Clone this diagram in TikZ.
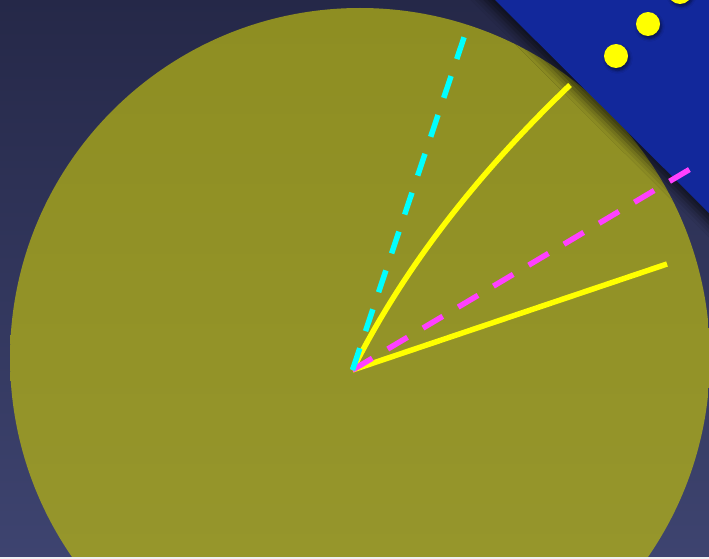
\documentclass[tikz,border=0pt]{standalone}
\usetikzlibrary{shadows.blur}
\definecolor{bgtop}{RGB}{37,40,72}
\definecolor{bgbot}{RGB}{62,68,112}
\definecolor{olivetop}{RGB}{142,142,34}
\definecolor{olivebot}{RGB}{152,152,46}
\definecolor{bluezone}{RGB}{18,40,155}
\definecolor{cyanline}{RGB}{0,255,255}
\definecolor{magline}{RGB}{255,64,255}
\definecolor{yel}{RGB}{255,255,0}
\begin{document}
\begin{tikzpicture}[x=1pt,y=-1pt,
  ray/.style={line width=5.5pt, line cap=butt},
  dashray/.style={ray, dash pattern=on 23pt off 18pt},
  dot/.style={fill=yel, blur shadow={shadow xshift=1.5pt, shadow yshift=-2.5pt, shadow blur radius=3pt, shadow opacity=55}}]
\useasboundingbox (0,0) rectangle (709,559);
\clip (0,0) rectangle (709,559);
% background
\shade[top color=bgtop, bottom color=bgbot] (0,0) rectangle (709,559);
% big disc
\shade[top color=olivetop, bottom color=olivebot] (360,358) circle (350pt);
% blue corner zone
\fill[bluezone, blur shadow={shadow xshift=-4pt, shadow yshift=-6pt, shadow blur radius=10pt, shadow opacity=65}]
  (475,-20) -- (730,234) -- (730,-20) -- cycle;
% dots
\fill[dot] (616,56) circle (12pt);
\fill[dot] (648,24) circle (12pt);
\fill[dot] (680,-8) circle (12pt);
% rays
\coordinate (O) at (352.5,370);
\coordinate (C) at (464.5,36);
\coordinate (Y1) at (570,85);
\coordinate (M) at (697,165);
\coordinate (Y2) at (667,264);
\draw[ray, yel] (O) -- (Y2);
\draw[ray, yel] (O) .. controls (402,271) and (475,176) .. (Y1);
\draw[dashray, magline] (O) -- (M);
\draw[dashray, cyanline] (O) -- (C);
% bottom strip
\fill[white!92!bgbot] (0,557) rectangle (709,559);
\end{tikzpicture}
\end{document}
